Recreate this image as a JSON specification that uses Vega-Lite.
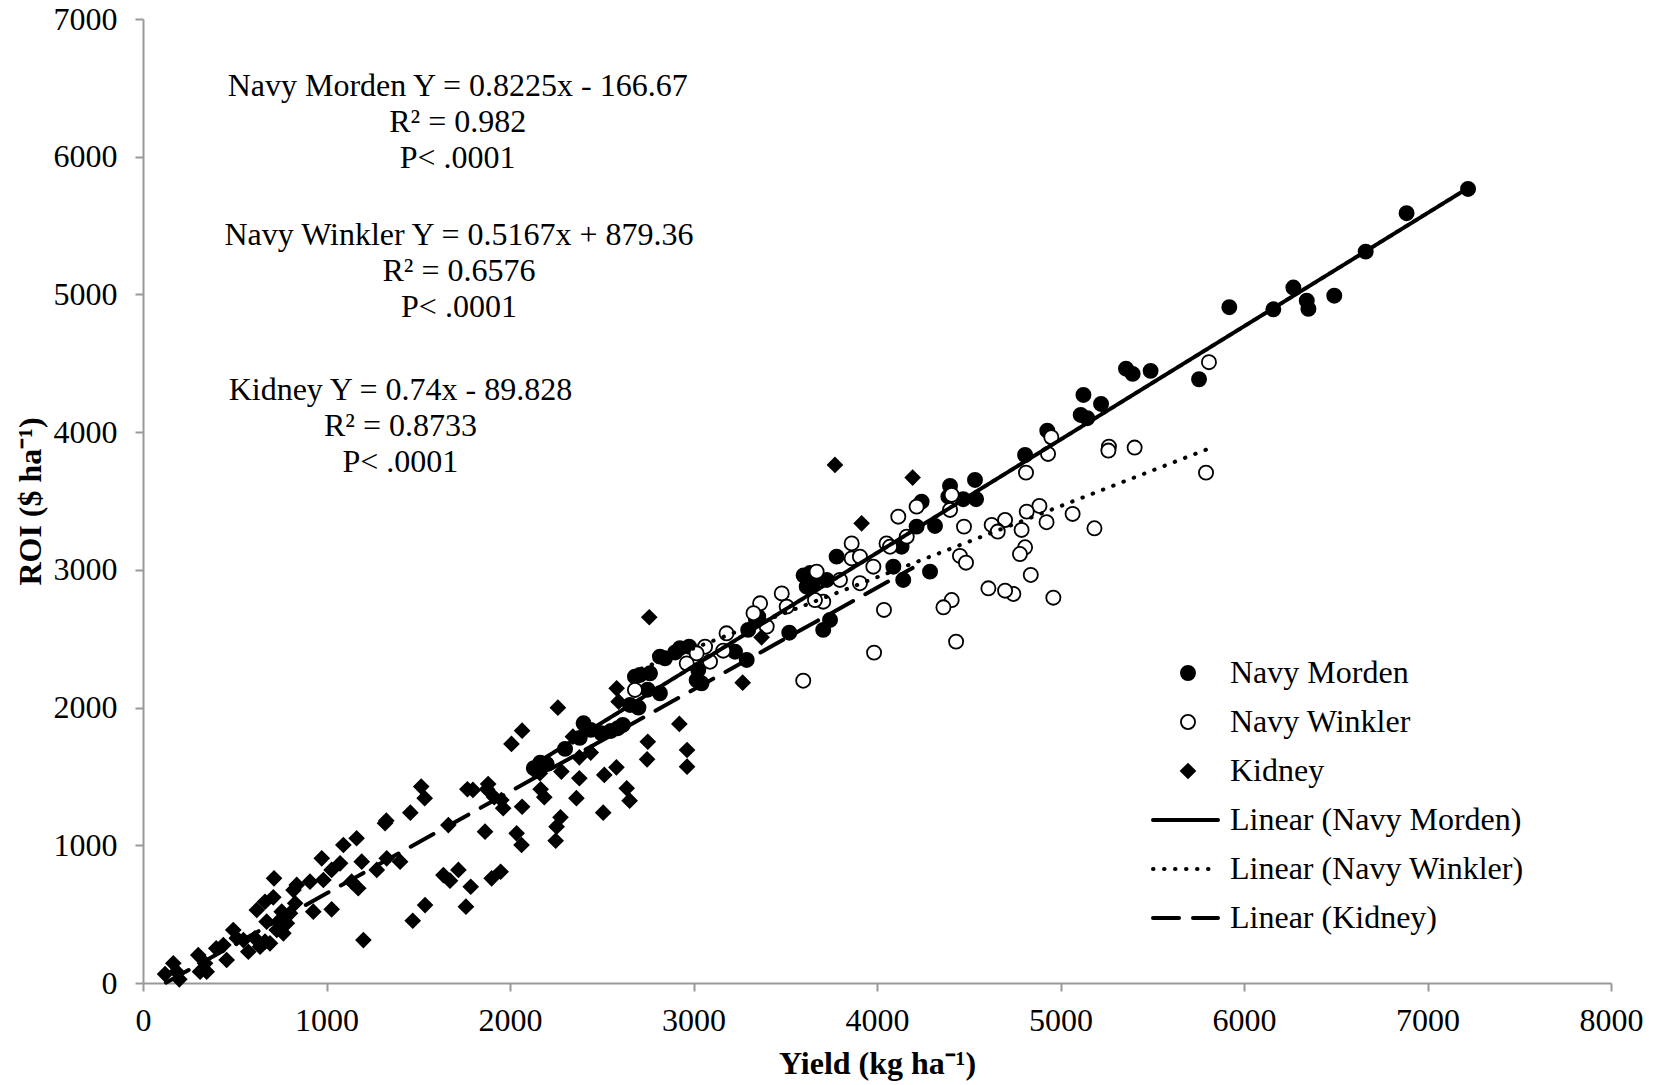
{
  "$schema": "https://vega.github.io/schema/vega-lite/v6.json",
  "width": 1468,
  "height": 964,
  "autosize": {"type": "none"},
  "padding": {"left": 143, "top": 19, "right": 47, "bottom": 102},
  "background": "white",
  "config": {
    "view": {"stroke": null},
    "font": "Liberation Serif",
    "axis": {
      "domainColor": "#999999", "domainWidth": 2,
      "tickColor": "#999999", "tickWidth": 2, "tickSize": 8,
      "grid": false, "format": "d",
      "labelFont": "Liberation Serif", "labelFontSize": 32, "labelColor": "black",
      "titleFont": "Liberation Serif", "titleFontSize": 32, "titleFontWeight": "bold", "titleColor": "black",
      "labelFlush": false, "labelOverlap": false
    }
  },
  "datasets": {
    "pts": [
      {"series":"Navy Morden","x":7221,"y":5766},{"series":"Navy Morden","x":6886,"y":5590},{"series":"Navy Morden","x":6663,"y":5311},{"series":"Navy Morden","x":6269,"y":5050},{"series":"Navy Morden","x":6160,"y":4892},{"series":"Navy Morden","x":6342,"y":4955},{"series":"Navy Morden","x":6351,"y":4895},{"series":"Navy Morden","x":6492,"y":4991},{"series":"Navy Morden","x":5920,"y":4907},{"series":"Navy Morden","x":5755,"y":4384},{"series":"Navy Morden","x":5357,"y":4461},{"series":"Navy Morden","x":5393,"y":4423},{"series":"Navy Morden","x":5491,"y":4445},{"series":"Navy Morden","x":5125,"y":4270},{"series":"Navy Morden","x":5221,"y":4205},{"series":"Navy Morden","x":5110,"y":4125},{"series":"Navy Morden","x":5146,"y":4101},{"series":"Navy Morden","x":4928,"y":4011},{"series":"Navy Morden","x":4807,"y":3834},{"series":"Navy Morden","x":4534,"y":3653},{"series":"Navy Morden","x":4398,"y":3609},{"series":"Navy Morden","x":4389,"y":3531},{"series":"Navy Morden","x":4470,"y":3513},{"series":"Navy Morden","x":4540,"y":3513},{"series":"Navy Morden","x":4243,"y":3495},{"series":"Navy Morden","x":4316,"y":3319},{"series":"Navy Morden","x":4216,"y":3314},{"series":"Navy Morden","x":4289,"y":2987},{"series":"Navy Morden","x":4134,"y":3168},{"series":"Navy Morden","x":4143,"y":2927},{"series":"Navy Morden","x":4089,"y":3023},{"series":"Navy Morden","x":3780,"y":3096},{"series":"Navy Morden","x":3635,"y":2977},{"series":"Navy Morden","x":3617,"y":2878},{"series":"Navy Morden","x":3726,"y":2927},{"series":"Navy Morden","x":3707,"y":2564},{"series":"Navy Morden","x":3744,"y":2636},{"series":"Navy Morden","x":3522,"y":2544},{"series":"Navy Morden","x":3353,"y":2660},{"series":"Navy Morden","x":3298,"y":2564},{"series":"Navy Morden","x":3226,"y":2406},{"series":"Navy Morden","x":3290,"y":2346},{"series":"Navy Morden","x":3017,"y":2200},{"series":"Navy Morden","x":3026,"y":2273},{"series":"Navy Morden","x":2926,"y":2431},{"series":"Navy Morden","x":2845,"y":2358},{"series":"Navy Morden","x":2708,"y":2237},{"series":"Navy Morden","x":2763,"y":2249},{"series":"Navy Morden","x":2817,"y":2104},{"series":"Navy Morden","x":2976,"y":2442},{"series":"Navy Morden","x":2817,"y":2370},{"series":"Navy Morden","x":3044,"y":2176},{"series":"Navy Morden","x":2681,"y":2224},{"series":"Navy Morden","x":2130,"y":1560},{"series":"Navy Morden","x":2165,"y":1600},{"series":"Navy Morden","x":2401,"y":1886},{"series":"Navy Morden","x":2440,"y":1838},{"series":"Navy Morden","x":2498,"y":1813},{"series":"Navy Morden","x":2588,"y":1850},{"series":"Navy Morden","x":2615,"y":1874},{"series":"Navy Morden","x":2654,"y":2019},{"series":"Navy Morden","x":2900,"y":2400},{"series":"Navy Morden","x":3650,"y":2900},{"series":"Navy Morden","x":3340,"y":2640},{"series":"Navy Morden","x":3600,"y":2960},{"series":"Navy Morden","x":2150,"y":1540},{"series":"Navy Morden","x":2200,"y":1590},{"series":"Navy Morden","x":2300,"y":1700},{"series":"Navy Morden","x":2380,"y":1780},{"series":"Navy Morden","x":2550,"y":1830},{"series":"Navy Morden","x":2700,"y":2000},{"series":"Navy Morden","x":2750,"y":2130},
      {"series":"Navy Winkler","x":5809,"y":4508},{"series":"Navy Winkler","x":5793,"y":3706},{"series":"Navy Winkler","x":4950,"y":3963},{"series":"Navy Winkler","x":4932,"y":3842},{"series":"Navy Winkler","x":4812,"y":3706},{"series":"Navy Winkler","x":5264,"y":3895},{"series":"Navy Winkler","x":5261,"y":3866},{"series":"Navy Winkler","x":5404,"y":3888},{"series":"Navy Winkler","x":5066,"y":3406},{"series":"Navy Winkler","x":5185,"y":3302},{"series":"Navy Winkler","x":4885,"y":3464},{"series":"Navy Winkler","x":4924,"y":3346},{"series":"Navy Winkler","x":4816,"y":3423},{"series":"Navy Winkler","x":4698,"y":3362},{"series":"Navy Winkler","x":4652,"y":3290},{"series":"Navy Winkler","x":4788,"y":3290},{"series":"Navy Winkler","x":4807,"y":3164},{"series":"Navy Winkler","x":4779,"y":3115},{"series":"Navy Winkler","x":4838,"y":2963},{"series":"Navy Winkler","x":4743,"y":2825},{"series":"Navy Winkler","x":4698,"y":2849},{"series":"Navy Winkler","x":4961,"y":2798},{"series":"Navy Winkler","x":4398,"y":3435},{"series":"Navy Winkler","x":4474,"y":3314},{"series":"Navy Winkler","x":4625,"y":3326},{"series":"Navy Winkler","x":4658,"y":3278},{"series":"Navy Winkler","x":4452,"y":3101},{"series":"Navy Winkler","x":4485,"y":3052},{"series":"Navy Winkler","x":4607,"y":2866},{"series":"Navy Winkler","x":4407,"y":2781},{"series":"Navy Winkler","x":4431,"y":2479},{"series":"Navy Winkler","x":4362,"y":2728},{"series":"Navy Winkler","x":4407,"y":3544},{"series":"Navy Winkler","x":4216,"y":3459},{"series":"Navy Winkler","x":4116,"y":3386},{"series":"Navy Winkler","x":4038,"y":2709},{"series":"Navy Winkler","x":3984,"y":2399},{"series":"Navy Winkler","x":3598,"y":2195},{"series":"Navy Winkler","x":4162,"y":3241},{"series":"Navy Winkler","x":4052,"y":3192},{"series":"Navy Winkler","x":4071,"y":3168},{"series":"Navy Winkler","x":3980,"y":3023},{"series":"Navy Winkler","x":3862,"y":3192},{"series":"Navy Winkler","x":3862,"y":3083},{"series":"Navy Winkler","x":3671,"y":2987},{"series":"Navy Winkler","x":3798,"y":2927},{"series":"Navy Winkler","x":3907,"y":2903},{"series":"Navy Winkler","x":3707,"y":2769},{"series":"Navy Winkler","x":3662,"y":2781},{"series":"Navy Winkler","x":3481,"y":2829},{"series":"Navy Winkler","x":3508,"y":2733},{"series":"Navy Winkler","x":3363,"y":2757},{"series":"Navy Winkler","x":3327,"y":2685},{"series":"Navy Winkler","x":3399,"y":2588},{"series":"Navy Winkler","x":3180,"y":2539},{"series":"Navy Winkler","x":3063,"y":2442},{"series":"Navy Winkler","x":3017,"y":2394},{"series":"Navy Winkler","x":3090,"y":2333},{"series":"Navy Winkler","x":2963,"y":2321},{"series":"Navy Winkler","x":2681,"y":2128},{"series":"Navy Winkler","x":3162,"y":2413},{"series":"Navy Winkler","x":3907,"y":3096},
      {"series":"Kidney","x":120,"y":65},{"series":"Kidney","x":165,"y":143},{"series":"Kidney","x":198,"y":27},{"series":"Kidney","x":183,"y":82},{"series":"Kidney","x":301,"y":203},{"series":"Kidney","x":311,"y":82},{"series":"Kidney","x":347,"y":82},{"series":"Kidney","x":338,"y":143},{"series":"Kidney","x":399,"y":252},{"series":"Kidney","x":456,"y":167},{"series":"Kidney","x":438,"y":276},{"series":"Kidney","x":492,"y":385},{"series":"Kidney","x":511,"y":325},{"series":"Kidney","x":547,"y":312},{"series":"Kidney","x":574,"y":227},{"series":"Kidney","x":610,"y":325},{"series":"Kidney","x":638,"y":264},{"series":"Kidney","x":665,"y":300},{"series":"Kidney","x":692,"y":288},{"series":"Kidney","x":674,"y":445},{"series":"Kidney","x":729,"y":385},{"series":"Kidney","x":747,"y":458},{"series":"Kidney","x":765,"y":361},{"series":"Kidney","x":784,"y":434},{"series":"Kidney","x":756,"y":518},{"series":"Kidney","x":801,"y":506},{"series":"Kidney","x":829,"y":579},{"series":"Kidney","x":820,"y":675},{"series":"Kidney","x":838,"y":712},{"series":"Kidney","x":620,"y":530},{"series":"Kidney","x":665,"y":590},{"series":"Kidney","x":710,"y":622},{"series":"Kidney","x":714,"y":760},{"series":"Kidney","x":910,"y":736},{"series":"Kidney","x":928,"y":518},{"series":"Kidney","x":974,"y":905},{"series":"Kidney","x":1028,"y":535},{"series":"Kidney","x":983,"y":748},{"series":"Kidney","x":1028,"y":821},{"series":"Kidney","x":1074,"y":869},{"series":"Kidney","x":1092,"y":1002},{"series":"Kidney","x":1164,"y":1051},{"series":"Kidney","x":1192,"y":881},{"series":"Kidney","x":1137,"y":736},{"series":"Kidney","x":1173,"y":688},{"series":"Kidney","x":1274,"y":821},{"series":"Kidney","x":1328,"y":905},{"series":"Kidney","x":1401,"y":881},{"series":"Kidney","x":1201,"y":312},{"series":"Kidney","x":1319,"y":1160},{"series":"Kidney","x":1470,"y":452},{"series":"Kidney","x":1537,"y":566},{"series":"Kidney","x":1637,"y":784},{"series":"Kidney","x":1673,"y":743},{"series":"Kidney","x":1719,"y":821},{"series":"Kidney","x":1786,"y":699},{"series":"Kidney","x":1760,"y":554},{"series":"Kidney","x":1900,"y":760},{"series":"Kidney","x":1949,"y":808},{"series":"Kidney","x":1664,"y":1147},{"series":"Kidney","x":1864,"y":1099},{"series":"Kidney","x":2036,"y":1087},{"series":"Kidney","x":2063,"y":1002},
      {"series":"Kidney","x":2592,"y":2043},{"series":"Kidney","x":2261,"y":1999},{"series":"Kidney","x":2066,"y":1832},{"series":"Kidney","x":2008,"y":1736},{"series":"Kidney","x":2343,"y":1789},{"series":"Kidney","x":2440,"y":1673},{"series":"Kidney","x":2378,"y":1639},{"series":"Kidney","x":2167,"y":1407},{"series":"Kidney","x":2163,"y":1523},{"series":"Kidney","x":2187,"y":1349},{"series":"Kidney","x":2280,"y":1535},{"series":"Kidney","x":2378,"y":1487},{"series":"Kidney","x":2362,"y":1342},{"series":"Kidney","x":2514,"y":1511},{"series":"Kidney","x":2580,"y":1566},{"series":"Kidney","x":2636,"y":1414},{"series":"Kidney","x":2652,"y":1324},{"series":"Kidney","x":2508,"y":1237},{"series":"Kidney","x":2275,"y":1203},{"series":"Kidney","x":2254,"y":1135},{"series":"Kidney","x":2249,"y":1033},{"series":"Kidney","x":2751,"y":1752},{"series":"Kidney","x":2747,"y":1624},{"series":"Kidney","x":2923,"y":1881},{"series":"Kidney","x":2965,"y":1692},{"series":"Kidney","x":2965,"y":1571},{"series":"Kidney","x":2066,"y":1280},{"series":"Kidney","x":1953,"y":1329},{"series":"Kidney","x":1875,"y":1407},{"series":"Kidney","x":1881,"y":1445},{"series":"Kidney","x":1798,"y":1402},{"series":"Kidney","x":1768,"y":1407},{"series":"Kidney","x":1914,"y":1349},{"series":"Kidney","x":1963,"y":1269},{"series":"Kidney","x":1516,"y":1426},{"series":"Kidney","x":1535,"y":1342},{"series":"Kidney","x":1457,"y":1237},{"series":"Kidney","x":1326,"y":1179},
      {"series":"Kidney","x":3771,"y":3762},{"series":"Kidney","x":4194,"y":3670},{"series":"Kidney","x":3916,"y":3338},{"series":"Kidney","x":2759,"y":2656},{"series":"Kidney","x":3371,"y":2510},{"series":"Kidney","x":3268,"y":2181},{"series":"Kidney","x":2581,"y":2140}
    ],
    "trend": [
      {"trend":"Linear (Navy Morden)","x":2100,"y":1560.6},{"trend":"Linear (Navy Morden)","x":7221,"y":5772.6},
      {"trend":"Linear (Navy Winkler)","x":2660,"y":2253.8},{"trend":"Linear (Navy Winkler)","x":5809,"y":3880.9},
      {"trend":"Linear (Kidney)","x":125,"y":2.7},{"trend":"Linear (Kidney)","x":4194,"y":3013.7}
    ],
    "one": [{}]
  },
  "layer": [
    {
      "data": {"name": "pts"},
      "mark": {"type": "point", "filled": true, "stroke": "black", "strokeWidth": 1.8, "size": 200, "opacity": 1},
      "encoding": {
        "x": {"field": "x", "type": "quantitative",
              "scale": {"domain": [0, 8000], "nice": false, "zero": true},
              "axis": {"values": [0,1000,2000,3000,4000,5000,6000,7000,8000], "title": "Yield (kg ha⁻¹)", "labelPadding": 14, "titlePadding": 12}},
        "y": {"field": "y", "type": "quantitative",
              "scale": {"domain": [0, 7000], "nice": false, "zero": true},
              "axis": {"values": [0,1000,2000,3000,4000,5000,6000,7000], "title": "ROI ($ ha⁻¹)", "labelPadding": 18, "titlePadding": 6}},
        "shape": {"field": "series", "type": "nominal",
                  "scale": {"domain": ["Navy Morden","Navy Winkler","Kidney"], "range": ["circle","circle","diamond"]},
                  "legend": {"title": null, "orient": "none", "legendX": 1029, "legendY": 638, "padding": 0,
                             "labelFont": "Liberation Serif", "labelFontSize": 32, "labelColor": "black", "labelLimit": 0,
                             "labelOffset": 26, "rowPadding": 17, "symbolSize": 200, "symbolStrokeWidth": 1.8}},
        "fill": {"field": "series", "type": "nominal",
                 "scale": {"domain": ["Navy Morden","Navy Winkler","Kidney"], "range": ["black","white","black"]},
                 "legend": {"title": null, "orient": "none", "legendX": 1029, "legendY": 638, "padding": 0,
                            "labelFont": "Liberation Serif", "labelFontSize": 32, "labelColor": "black", "labelLimit": 0,
                            "labelOffset": 26, "rowPadding": 17, "symbolSize": 200, "symbolStrokeWidth": 1.8}},
        "stroke": {"field": "series", "type": "nominal",
                   "scale": {"domain": ["Navy Morden","Navy Winkler","Kidney"], "range": ["black","black","black"]},
                   "legend": {"title": null, "orient": "none", "legendX": 1029, "legendY": 638, "padding": 0,
                              "labelFont": "Liberation Serif", "labelFontSize": 32, "labelColor": "black", "labelLimit": 0,
                              "labelOffset": 26, "rowPadding": 17, "symbolSize": 200, "symbolStrokeWidth": 1.8}}
      }
    },
    {
      "data": {"name": "trend"},
      "mark": {"type": "line", "stroke": "black", "strokeWidth": 4, "strokeCap": "round"},
      "encoding": {
        "x": {"field": "x", "type": "quantitative"},
        "y": {"field": "y", "type": "quantitative"},
        "strokeDash": {"field": "trend", "type": "nominal",
                       "scale": {"domain": ["Linear (Navy Morden)","Linear (Navy Winkler)","Linear (Kidney)"], "range": [[1,0],[0.5,10.5],[26,14]]},
                       "legend": {"title": null, "orient": "none", "legendX": 1008, "legendY": 785, "padding": 0,
                                  "symbolType": "stroke", "symbolSize": 4225, "symbolStrokeWidth": 4, "symbolStrokeColor": "black",
                                  "clipHeight": 32, "labelOffset": 10, "rowPadding": 17,
                                  "labelFont": "Liberation Serif", "labelFontSize": 32, "labelColor": "black", "labelLimit": 0,
                                  "encode": {"symbols": {"update": {"strokeCap": {"value": "round"}, "stroke": {"value": "black"}, "opacity": {"value": 1}}}}}}
      }
    },
    {
      "data": {"name": "one"},
      "mark": {"type": "text", "font": "Liberation Serif", "fontSize": 32, "align": "center", "baseline": "top", "lineHeight": 36, "color": "black",
               "text": ["Navy Morden Y = 0.8225x - 166.67", "R² = 0.982", "P< .0001"]},
      "encoding": {"x": {"datum": 1715, "type": "quantitative"}, "y": {"datum": 6620, "type": "quantitative"}}
    },
    {
      "data": {"name": "one"},
      "mark": {"type": "text", "font": "Liberation Serif", "fontSize": 32, "align": "center", "baseline": "top", "lineHeight": 36, "color": "black",
               "text": ["Navy Winkler Y = 0.5167x + 879.36", "R² = 0.6576", "P< .0001"]},
      "encoding": {"x": {"datum": 1722, "type": "quantitative"}, "y": {"datum": 5543, "type": "quantitative"}}
    },
    {
      "data": {"name": "one"},
      "mark": {"type": "text", "font": "Liberation Serif", "fontSize": 32, "align": "center", "baseline": "top", "lineHeight": 36, "color": "black",
               "text": ["Kidney Y = 0.74x - 89.828", "R² = 0.8733", "P< .0001"]},
      "encoding": {"x": {"datum": 1403, "type": "quantitative"}, "y": {"datum": 4418, "type": "quantitative"}}
    }
  ]
}
